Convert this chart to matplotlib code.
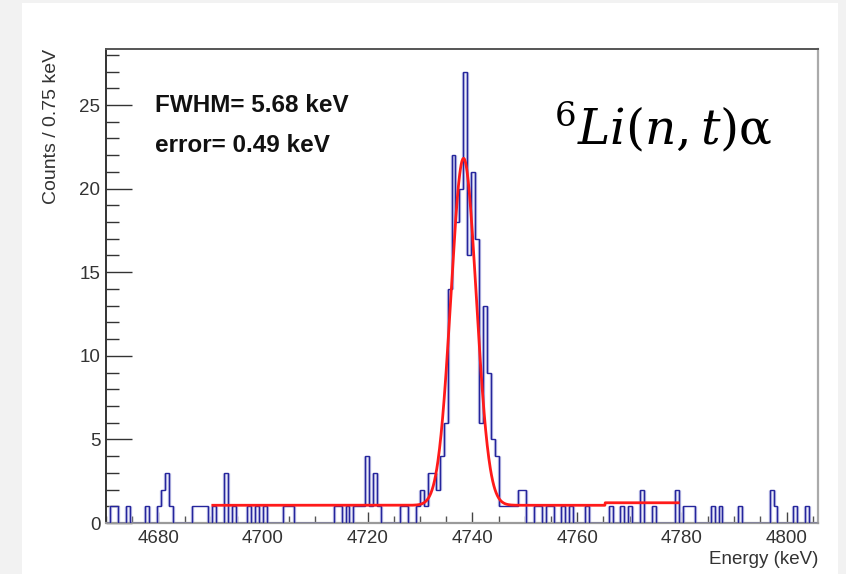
import numpy as np
import matplotlib
matplotlib.use("Agg")
import matplotlib.pyplot as plt
from matplotlib.ticker import MultipleLocator
from matplotlib.patches import Rectangle
from matplotlib.collections import LineCollection

# ---- histogram: 0.75 keV bins starting at 4670 keV ----
bin_width = 0.75
energy_start = 4670.0
n_bins = 181
occupied_bins = [1, 2, 5, 10, 13, 14, 15, 16, 22, 23, 24, 25, 27, 30, 32, 36, 38, 40,
                 45, 46, 47, 58, 59, 61, 63, 64, 65, 66, 67, 68, 69, 75, 76, 79, 80,
                 81, 82, 83, 84, 85, 86, 87, 88, 89, 90, 91, 92, 93, 94, 95, 96, 97,
                 98, 99, 100, 101, 102, 103, 104, 105, 106, 109, 110, 112, 113, 116,
                 118, 122, 128, 131, 133, 136, 139, 145, 147, 148, 149, 154, 156, 161,
                 169, 170, 175, 178]
occupied_counts = [1, 1, 1, 1, 1, 2, 3, 1, 1, 1, 1, 1, 1, 3, 1, 1, 1, 1,
                   1, 1, 1, 1, 1, 1, 1, 1, 1, 4, 1, 3, 1, 1, 1, 1, 2,
                   1, 3, 3, 2, 4, 6, 14, 22, 18, 20, 27, 16, 21, 17, 6, 13, 9,
                   5, 4, 1, 1, 1, 1, 1, 2, 2, 1, 1, 1, 1, 1,
                   1, 1, 1, 1, 1, 2, 1, 2, 1, 1, 1, 1, 1, 1,
                   2, 1, 1, 1]

# ---- fit: gaussian peak on a flat background ----
fwhm = 5.68
fwhm_error = 0.49
peak_mean = 4738.3
peak_amplitude = 20.75
fit_range = [4690.4, 4779.3]
background_levels = [1.06, 1.21]
background_break = 4765.3

x_ticks = [4680, 4700, 4720, 4740, 4760, 4780, 4800]
y_ticks = [0, 5, 10, 15, 20, 25]

counts = np.zeros(n_bins)
counts[occupied_bins] = occupied_counts
edges = energy_start + bin_width * np.arange(n_bins + 1)

sigma = fwhm / (2.0 * np.sqrt(2.0 * np.log(2.0)))
xf = np.linspace(fit_range[0], fit_range[1], 1200)
bg = np.where(xf < background_break, background_levels[0], background_levels[1])
yf = bg + peak_amplitude * np.exp(-0.5 * ((xf - peak_mean) / sigma) ** 2)

W, H = 846, 574
fig = plt.figure(figsize=(W / 100, H / 100), dpi=100, facecolor="#f2f2f2")
fig.patches.append(Rectangle((22 / W, 0), 816 / W, 1 - 3 / H, transform=fig.transFigure,
                             facecolor="white", edgecolor="none", zorder=-10))

ax = fig.add_axes([106 / W, 1 - 523 / H, 712 / W, 474.5 / H])
ax.set_facecolor("white")

# soft lavender band under each vertical step of the histogram
padded = np.concatenate([[0.0], counts, [0.0]])
risers = [[(edges[i], padded[i]), (edges[i], padded[i + 1])]
          for i in range(n_bins + 1) if padded[i] != padded[i + 1]]
ax.add_collection(LineCollection(risers, colors="#c2c4e8", linewidths=2.4,
                                 capstyle="butt", zorder=2))
ax.stairs(counts, edges, color="#25259c", linewidth=1.0, zorder=3)
ax.plot(xf, yf, color="#ff1a1a", linewidth=2.0, zorder=4)

ax.set_xlim(4670, 4806)
ax.set_ylim(0, 28.38)

sans = ["Liberation Sans", "DejaVu Sans"]
ax.xaxis.set_major_locator(MultipleLocator(20))
ax.xaxis.set_minor_locator(MultipleLocator(5))
ax.yaxis.set_major_locator(MultipleLocator(5))
ax.yaxis.set_minor_locator(MultipleLocator(1))
ax.tick_params(axis="x", which="major", direction="in", length=8, width=1.0,
               color="#444444", pad=5, labelsize=13.5, labelcolor="#333333",
               top=False)
ax.tick_params(axis="x", which="minor", direction="in", length=5, width=1.0,
               color="#555555", top=False)
ax.tick_params(axis="y", which="major", direction="in", length=19, width=1.0,
               color="#333333", pad=4, labelsize=13.5, labelcolor="#333333",
               right=False)
ax.tick_params(axis="y", which="minor", direction="in", length=9, width=1.0,
               color="#333333", right=False)
ax.set_xticks(x_ticks)
ax.set_yticks(y_ticks)
for lab in ax.get_xticklabels() + ax.get_yticklabels():
    lab.set_family(sans)

ax.spines["left"].set_color("#333333")
ax.spines["left"].set_linewidth(1.4)
ax.spines["bottom"].set_color("#9a9a9a")
ax.spines["bottom"].set_linewidth(1.6)
ax.spines["top"].set_color("#555555")
ax.spines["top"].set_linewidth(1.4)
ax.spines["right"].set_color("#aaaaaa")
ax.spines["right"].set_linewidth(1.6)

ax.set_xlabel("Energy (keV)", fontsize=13.5, family=sans, color="#333333")
ax.xaxis.set_label_coords(1.0, -0.06)
ax.xaxis.label.set_horizontalalignment("right")
ax.set_ylabel("Counts / 0.75 keV", fontsize=14, family=sans, color="#333333")
ax.yaxis.set_label_coords(-0.064, 1.0)
ax.yaxis.label.set_horizontalalignment("right")

fig.text(155 / W, 1 - 106 / H, f"FWHM= {fwhm:.2f} keV", fontsize=17.5,
         fontweight="bold", family=sans, ha="left", va="center", color="#111111")
fig.text(155 / W, 1 - 145 / H, f"error= {fwhm_error:.2f} keV", fontsize=17.5,
         fontweight="bold", family=sans, ha="left", va="center", color="#111111")

plt.rcParams["mathtext.fontset"] = "dejavuserif"
fig.text(554 / W, 1 - 127 / H, r"${}^{6}Li(n,t)\mathrm{\alpha}$", fontsize=35,
         ha="left", va="center", color="black")

fig.savefig("out.png", dpi=100, facecolor=fig.get_facecolor())
